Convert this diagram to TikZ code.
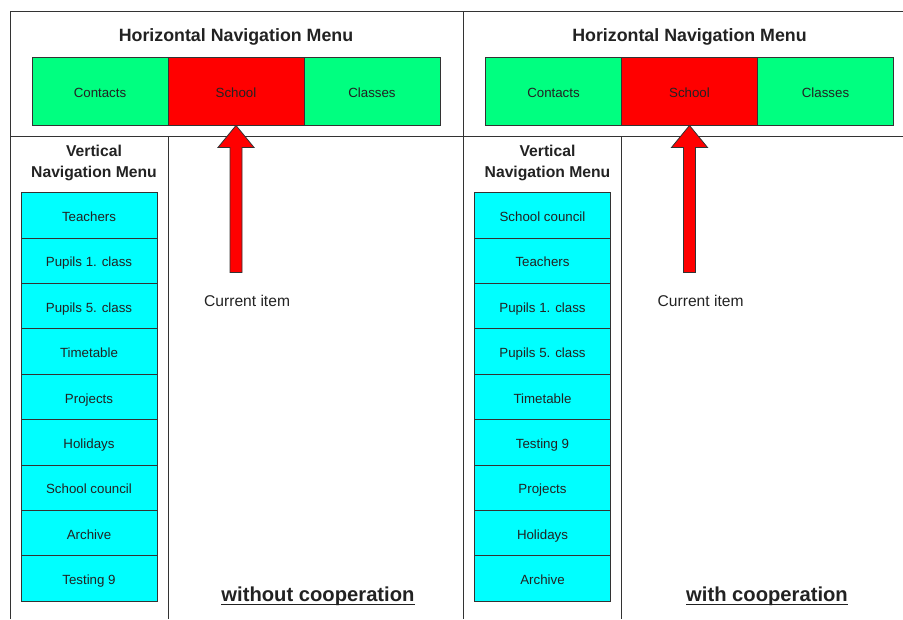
\documentclass[tikz,border=0pt]{standalone}
\usepackage{fontspec}
\setmainfont{Liberation Sans}
\usetikzlibrary{calc}
\definecolor{menugreen}{HTML}{00FF80}
\definecolor{menured}{HTML}{FF0000}
\definecolor{menucyan}{HTML}{00FFFF}
\definecolor{linegray}{HTML}{333333}
\definecolor{textgray}{HTML}{222222}

\begin{document}
\begin{tikzpicture}[x=1pt,y=-1pt,
  frame/.style={draw=linegray, line width=0.9pt},
  menubox/.style={draw=linegray, line width=0.9pt, inner sep=0pt,
    minimum width=136pt, text=textgray,
    font=\fontsize{13.3}{16}\selectfont, text height=12pt, text depth=0pt},
  hbox/.style={menubox, minimum height=68pt},
  vbox/.style={menubox, minimum height=45.4pt, fill=menucyan},
  title/.style={anchor=base, inner sep=0pt, text=textgray,
    font=\bfseries\fontsize{17.8}{20}\selectfont},
  vtitle/.style={inner sep=0pt, text=textgray, align=center,
    font=\bfseries\fontsize{15.7}{21}\selectfont},
  note/.style={anchor=base west, inner sep=0pt, text=textgray,
    font=\fontsize{15.6}{18}\selectfont},
  caption/.style={anchor=base, inner sep=0pt, text=textgray,
    font=\bfseries\fontsize{20.2}{24}\selectfont},
  bigarrow/.style={fill=menured, draw=linegray, line width=0.8pt, line join=miter}
]
\useasboundingbox (0,0) rectangle (903,619);

% panel frame
\draw[frame] (10,619) -- (10,11.5) -- (903,11.5);
\draw[frame] (10,136) -- (903,136);
\draw[frame] (463,11.5) -- (463,619);
\draw[frame] (168,136) -- (168,619);
\draw[frame] (621,136) -- (621,619);

% ---------- left panel: without cooperation ----------
\node[title] (htL) at (236,41.5) {Horizontal Navigation Menu};
\node[hbox, fill=menugreen] (conL) at (100,91) {Contacts};
\node[hbox, fill=menured]   (schL) at (236,91) {School};
\node[hbox, fill=menugreen] (claL) at (372,91) {Classes};

\node[vtitle] (vtL) at (94,162.5) {Vertical\\Navigation Menu};
\foreach \t [count=\i from 0] in {Teachers, Pupils 1. class, Pupils 5. class,
    Timetable, Projects, Holidays, School council, Archive, Testing 9}
  \node[vbox] (vL\i) at (89,215.4+\i*45.4) {\t};

\draw[bigarrow] (schL.south) -- ($(schL.south)+(18,22)$) -- ($(schL.south)+(6,22)$)
  -- ($(schL.south)+(6,147)$) -- ($(schL.south)+(-6,147)$) -- ($(schL.south)+(-6,22)$)
  -- ($(schL.south)+(-18,22)$) -- cycle;
\node[note] (curL) at (204,306.5) {Current item};

\node[caption] (capL) at (318,601.5) {without cooperation};
\draw[textgray, line width=1.4pt] ($(capL.base west)+(0,2.8)$) -- ($(capL.base east)+(0,2.8)$);

% ---------- right panel: with cooperation ----------
\node[title] (htR) at (689.5,41.5) {Horizontal Navigation Menu};
\node[hbox, fill=menugreen] (conR) at (553.5,91) {Contacts};
\node[hbox, fill=menured]   (schR) at (689.5,91) {School};
\node[hbox, fill=menugreen] (claR) at (825.5,91) {Classes};

\node[vtitle] (vtR) at (547.5,162.5) {Vertical\\Navigation Menu};
\foreach \t [count=\i from 0] in {School council, Teachers, Pupils 1. class,
    Pupils 5. class, Timetable, Testing 9, Projects, Holidays, Archive}
  \node[vbox] (vR\i) at (542.5,215.4+\i*45.4) {\t};

\draw[bigarrow] (schR.south) -- ($(schR.south)+(18,22)$) -- ($(schR.south)+(6,22)$)
  -- ($(schR.south)+(6,147)$) -- ($(schR.south)+(-6,147)$) -- ($(schR.south)+(-6,22)$)
  -- ($(schR.south)+(-18,22)$) -- cycle;
\node[note] (curR) at (657.5,306.5) {Current item};

\node[caption] (capR) at (767,601.5) {with cooperation};
\draw[textgray, line width=1.4pt] ($(capR.base west)+(0,2.8)$) -- ($(capR.base east)+(0,2.8)$);
\end{tikzpicture}
\end{document}
